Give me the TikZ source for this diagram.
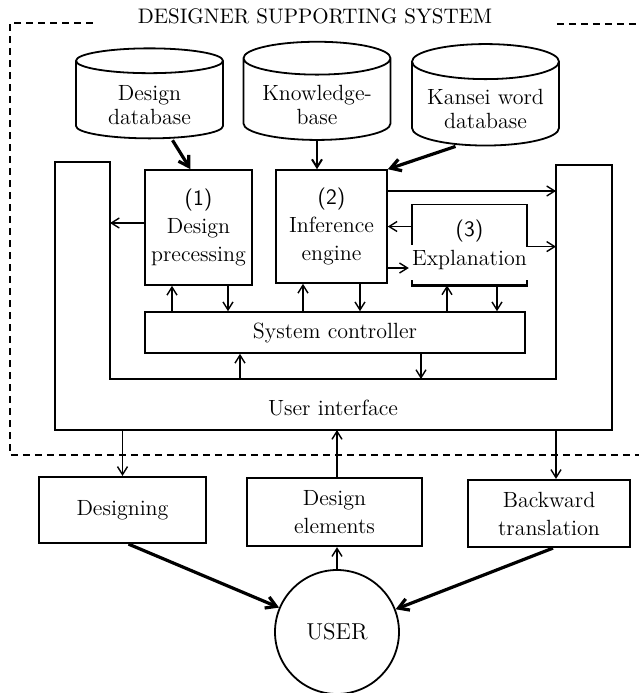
\documentclass[tikz,border=0pt]{standalone}
\usepackage{tikz}
\usetikzlibrary{arrows.meta,positioning,calc,shapes.geometric}

% database caption, set a little below the middle of the drum
\newcommand{\dbtext}[1]{\raisebox{-4pt}[\height][\depth]{\begin{tabular}{@{}c@{}}#1\end{tabular}}}

\begin{document}
\begin{tikzpicture}[x=0.5pt, y=-0.5pt,
    unit/.style={draw, line width=0.8pt, inner sep=0pt, align=center,
                 font=\fontsize{11}{14}\selectfont},
    store/.style={cylinder, shape border rotate=90, aspect=0.3, draw,
                  line width=0.9pt, minimum width=73.5pt, minimum height=45pt,
                  inner sep=0pt, font=\fontsize{11}{12}\selectfont},
    arr/.style={-{Straight Barb[length=4pt,width=5pt]}, line width=0.7pt},
    thk/.style={-{Straight Barb[length=5pt,width=6pt]}, line width=1.6pt},
    frame/.style={dashed, dash pattern=on 3.5pt off 2.5pt, line width=0.8pt},
    lbl/.style={font=\fontsize{11}{14}\selectfont, align=center}
  ]
    \useasboundingbox (0,0) rectangle (639,693);

    % system frame and title
    \node[font=\fontsize{10.5}{12}\selectfont] (title) at (315,16) {DESIGNER SUPPORTING SYSTEM};
    \draw[frame] (93,23) -- (10,23) -- (10,455) -- (639,455);
    \draw[frame] (557,24) -- (639,24);

    % databases
    \node[store] (ddb) at (149.5,100)  {\dbtext{Design\\database}};
    \node[store] (kdb) at (317,99.5)   {\dbtext{Knowledge-\\base}};
    \node[store] (kwd) at (485.5,104)  {\dbtext{Kansei word\\database}};

    % user interface (U shape)
    \draw[line width=0.8pt] (55,162) -- (110,162) -- (110,379) -- (556,379)
        -- (556,165) -- (612,165) -- (612,430) -- (55,430) -- cycle;
    \coordinate (uiL) at (110,162);
    \coordinate (uiR) at (556,165);
    \coordinate (uiB) at (110,379);
    \coordinate (uiO) at (55,430);
    \node[lbl] (ui) at (333,408) {User interface};

    % modules
    \node[unit, minimum width=53.5pt, minimum height=57.5pt] (dp) at (198.5,227.5)
        {{\sffamily(1)}\\Design\\precessing};
    \node[unit, minimum width=55.5pt, minimum height=56.5pt] (ie) at (331.5,226.5)
        {{\sffamily(2)}\\Inference\\engine};
    \node[lbl, inner sep=0pt, minimum width=53.5pt, minimum height=40pt,
          font=\fontsize{11}{14.5}\selectfont] (ex) at (469.5,245)
        {{\sffamily(3)}\\Explanation};
    \node[unit, minimum width=190pt, minimum height=20.5pt] (sc) at (335,332.5)
        {System controller};

    % explanation brackets
    \draw[line width=0.8pt] ([yshift=-20pt]ex.north west) -- (ex.north west)
        -- (ex.north east) -- ([yshift=-21pt]ex.north east) coordinate (exr);
    \draw[line width=1.2pt] ([yshift=2.5pt]ex.south west) -- (ex.south west)
        -- (ex.south east) -- ([yshift=2.5pt]ex.south east);

    % outside
    \node[unit, line width=1.1pt, minimum width=83.5pt, minimum height=33pt] (dsg) at (122.5,510) {Designing};
    \node[unit, line width=1.1pt, minimum width=87.5pt, minimum height=34pt] (del) at (334.5,512) {Design\\elements};
    \node[unit, line width=1.1pt, minimum width=81pt, minimum height=33.5pt] (bwt) at (549,513.5) {Backward\\translation};
    \node[circle, draw, line width=0.9pt, minimum size=62pt,
          font=\fontsize{11.5}{14}\selectfont] (user) at (337,632) {USER};

    % database links
    \draw[thk] ($(ddb.south)+(23,1)$) -- ($(dp.north)+(-8,0)$);
    \draw[arr, line width=1pt] (kdb.south) -- (kdb.south |- ie.north);
    \draw[thk] ($(kwd.south)+(-30,0)$) -- (ie.north east);

    % module links
    \draw[arr] ([yshift=2.25pt]dp.west) -- ([yshift=2.25pt]dp.west -| uiL);
    \draw[arr] ([yshift=17.75pt]ie.east) -- ([yshift=17.75pt]ie.east -| uiR);
    \draw[arr] (ex.west |- ie.east) -- (ie.east);
    \draw[arr] ([yshift=-20.75pt]ie.east) -- ([yshift=-20.75pt, xshift=-1.5pt]ie.east -| ex.west);
    \draw[arr] (exr) -- (exr -| uiR);

    \foreach \b/\u/\d in {dp/-13.25pt/14.75pt, ie/-14.25pt/14.25pt, ex/-11.25pt/13.75pt}{
      \draw[arr] ([xshift=\u]\b.south |- sc.north) -- ([xshift=\u]\b.south);
      \draw[arr] ([xshift=\d]\b.south) -- ([xshift=\d]\b.south |- sc.north);
    }
    \draw[arr] ([xshift=-47.5pt]sc.south |- uiB) -- ([xshift=-47.5pt]sc.south);
    \draw[arr] ([xshift=43pt]sc.south) -- ([xshift=43pt]sc.south |- uiB);

    % user side
    \draw[arr] (dsg.north |- uiO) -- (dsg.north);
    \draw[arr] (user.north |- del.north) -- (user.north |- uiO);
    \draw[arr] ([xshift=3.5pt]bwt.north |- uiO) -- ([xshift=3.5pt]bwt.north);
    \draw[arr] (user.north) -- (user.north |- del.south);
    \draw[thk] ([xshift=3pt]dsg.south) -- (user);
    \draw[thk] ([xshift=2pt]bwt.south) -- (user);
  \end{tikzpicture}
\end{document}
